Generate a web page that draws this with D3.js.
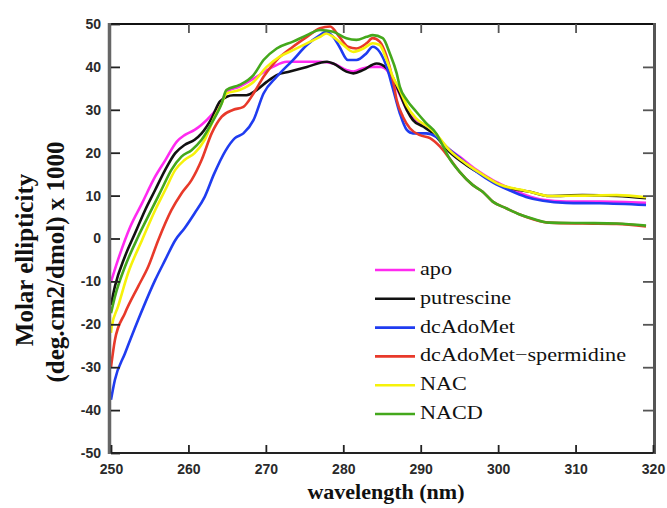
<!DOCTYPE html>
<html>
<head>
<meta charset="utf-8">
<script src="https://cdn.jsdelivr.net/npm/d3@7"></script>
<style>
    body { margin: 0; background: #fff; }
</style>
</head>
<body>
<svg id="chart"></svg>
<script>
// CD spectra, [wavelength, ellipticity]
var apo = [[250,-10.1],[250.9,-5.0],[252.5,2.8],[254.0,8.2],[255.7,14.4],[257.0,18.2],[258.5,22.6],[259.5,24.1],[260.8,25.3],[261.7,26.5],[263.0,28.8],[264.3,31.9],[264.9,34.2],[266.6,35.4],[268.8,37.7],[270.9,40.0],[272.7,41.2],[274.4,41.2],[277.0,41.2],[278.7,40.8],[280.4,39.3],[281.3,38.9],[282.6,39.7],[283.8,40.0],[284.9,40.0],[285.6,39.3],[286.4,36.9],[287.3,33.5],[288.2,30.0],[289.4,27.6],[291.2,25.7],[292.0,24.1],[293.3,21.4],[295.0,19.1],[297.2,16.0],[299.3,13.6],[301.5,11.7],[303.6,10.1],[305.8,9.0],[308.8,8.6],[313.1,8.6],[319.1,8.3]];
var putrescine = [[250,-15.5],[250.5,-11.2],[251.8,-4.2],[253.1,1.2],[254.4,6.6],[255.7,11.3],[257.0,16.0],[258.3,19.9],[259.5,21.8],[260.8,23.0],[261.7,24.5],[263.0,28.0],[264.1,32.0],[265.8,33.4],[267.5,33.4],[268.8,34.6],[270.1,36.5],[271.4,38.1],[273.1,38.9],[275.3,40.0],[277.9,41.2],[278.7,40.8],[280.4,38.9],[281.3,38.5],[282.6,39.3],[284.3,40.8],[285.6,39.7],[286.4,37.5],[287.3,33.8],[288.2,30.0],[289.0,27.6],[290.3,26.1],[291.6,24.5],[293.7,20.2],[295.9,17.1],[298.0,14.8],[300.2,12.5],[302.8,11.3],[304.1,10.9],[306.6,9.9],[310.9,10.1],[315.3,9.9],[319.1,9.4]];
var dcAdoMet = [[250,-37.6],[250.5,-33.0],[251.8,-26.8],[253.5,-19.0],[255.7,-9.7],[257.0,-5.0],[258.3,-0.4],[259.5,2.4],[260.8,5.9],[262.1,9.7],[263.3,15.0],[264.8,20.5],[266.0,23.4],[267.1,24.5],[268.4,27.6],[269.7,33.8],[271.4,37.7],[273.5,41.6],[275.3,45.1],[277.0,47.4],[277.8,48.2],[278.7,47.0],[279.5,44.7],[280.6,41.6],[281.7,41.6],[283.0,43.2],[283.8,44.7],[284.7,43.5],[285.6,40.0],[286.4,35.0],[287.3,29.2],[288.2,25.3],[289.0,24.5],[290.7,24.5],[292.0,23.7],[293.3,21.4],[295.0,18.8],[297.2,15.6],[299.3,13.1],[301.5,11.2],[303.6,9.7],[305.8,8.8],[308.8,8.3],[313.1,8.2],[319.1,7.8]];
var dcAdoMetSpermidine = [[250,-30.0],[250.5,-23.7],[251.8,-17.4],[253.5,-11.2],[254.8,-6.6],[256.1,-0.4],[257.8,6.6],[259.1,10.5],[260.4,13.6],[261.7,18.3],[263.0,24.5],[264.3,28.4],[265.8,30.0],[267.1,30.7],[268.4,33.8],[269.7,37.7],[271.4,41.6],[273.5,44.7],[275.3,47.0],[277.0,49.0],[278.3,49.4],[279.5,47.0],[280.6,44.7],[281.7,44.3],[283.0,45.5],[283.8,46.7],[284.7,45.9],[285.6,42.4],[286.4,36.9],[286.9,32.3],[287.7,28.4],[288.6,25.7],[289.9,24.1],[291.2,23.4],[292.5,21.4],[293.7,18.7],[295.0,15.6],[296.7,12.5],[298.0,10.9],[299.3,8.6],[301.1,7.0],[302.8,5.6],[304.5,4.5],[306.6,3.7],[310.9,3.5],[315.3,3.4],[319.1,2.8]];
var nac = [[250,-22.0],[250.1,-20.5],[250.9,-15.9],[252.2,-8.1],[254.0,-0.4],[255.7,6.6],[257.0,11.3],[258.3,16.0],[259.5,18.3],[260.8,19.9],[262.1,23.0],[263.4,28.4],[264.3,31.5],[264.9,33.8],[266.6,34.6],[268.4,36.5],[270.1,40.0],[271.8,42.4],[273.5,43.9],[275.3,45.5],[277.0,47.0],[277.8,47.8],[278.7,47.0],[280.0,45.1],[281.3,43.5],[282.6,44.3],[283.8,45.5],[284.7,45.1],[285.6,41.6],[286.4,37.7],[287.3,34.6],[288.2,31.0],[289.4,28.0],[291.2,25.7],[292.0,24.3],[293.7,20.6],[295.9,17.4],[298.0,14.9],[300.2,12.6],[302.8,11.4],[304.1,10.9],[306.6,9.9],[310.9,10.0],[315.3,10.1],[319.1,9.6]];
var nacd = [[250,-17.4],[250.5,-13.6],[251.8,-6.6],[253.5,0.4],[255.2,6.6],[256.5,11.3],[257.8,16.0],[259.1,19.1],[260.4,20.6],[261.7,23.0],[263.0,26.9],[264.3,31.5],[264.9,34.6],[266.6,35.8],[268.4,38.1],[269.7,41.6],[271.4,44.3],[273.5,45.9],[275.3,47.4],[277.0,48.6],[278.7,48.2],[280.4,46.7],[281.7,46.3],[283.0,47.0],[283.8,47.4],[285.1,46.7],[286.0,43.2],[286.9,38.5],[287.3,35.4],[288.2,32.3],[289.4,29.6],[290.7,26.9],[292.0,24.5],[292.8,21.8],[293.7,18.7],[295.0,15.6],[296.7,12.5],[298.0,10.9],[299.3,8.6],[301.1,7.0],[302.8,5.6],[304.5,4.6],[306.6,3.7],[310.9,3.6],[315.3,3.5],[319.1,3.0]];

var seriesNames = ["apo", "putrescine", "dcAdoMet", "dcAdoMet\u2212spermidine", "NAC", "NACD"];
var seriesData = [apo, putrescine, dcAdoMet, dcAdoMetSpermidine, nac, nacd];
var seriesColors = ["#ff2af0", "#111111", "#1f3cf0", "#e8392a", "#f6f20a", "#44a81c"];

var xTicks = [250, 260, 270, 280, 290, 300, 310, 320];
var yTicks = [-50, -40, -30, -20, -10, 0, 10, 20, 30, 40, 50];

var width = 667, height = 508;
var plotLeft = 111, plotRight = 653, plotTop = 24, plotBottom = 453;

var svg = d3.select("#chart").attr("width", width).attr("height", height);

var x = d3.scaleLinear().domain([250, 320]).range([plotLeft, plotRight]);
var y = d3.scaleLinear().domain([-50, 50]).range([plotBottom, plotTop]);

//curves
var line = d3.line()
    .curve(d3.curveMonotoneX)
    .x(function (d) { return x(d[0]); })
    .y(function (d) { return y(d[1]); });

svg.selectAll("path.curve")
    .data(seriesData)
    .enter()
    .append("path")
    .attr("class", "curve")
    .attr("d", line)
    .attr("fill", "none")
    .attr("stroke", function (d, i) { return seriesColors[i]; })
    .attr("stroke-width", 2.6)
    .attr("stroke-linejoin", "round");

// frame: top/bottom black, left/right grey
var frame = svg.append("g");
frame.append("line").attr("x1", plotLeft).attr("x2", plotRight + 1).attr("y1", plotTop).attr("y2", plotTop)
    .attr("stroke", "#111").attr("stroke-width", 2.2);
frame.append("line").attr("x1", plotLeft).attr("x2", plotRight + 1).attr("y1", plotBottom).attr("y2", plotBottom)
    .attr("stroke", "#222").attr("stroke-width", 2.2);
frame.append("line").attr("x1", plotLeft - 1.5).attr("x2", plotLeft - 1.5).attr("y1", plotTop - 1).attr("y2", plotBottom + 1)
    .attr("stroke", "#666").attr("stroke-width", 3.5);
frame.append("line").attr("x1", plotRight + 1.5).attr("x2", plotRight + 1.5).attr("y1", plotTop - 1).attr("y2", plotBottom + 1)
    .attr("stroke", "#555").attr("stroke-width", 3);

// inward ticks on all four sides
var xAxisB = d3.axisBottom(x).tickValues(xTicks).tickSize(-8).tickPadding(11).tickFormat(d3.format("d"));
var xAxisT = d3.axisTop(x).tickValues(xTicks.slice(1, -1)).tickSize(-9).tickFormat("");
var yAxisL = d3.axisLeft(y).tickValues(yTicks).tickSize(-9).tickPadding(10).tickFormat(function (d) { return d < 0 ? "-" + Math.abs(d) : d; });
var yAxisR = d3.axisRight(y).tickValues(yTicks.slice(1, -1)).tickSize(-10).tickFormat("");

function styleAxis(g, col) {
    g.select(".domain").remove();
    g.selectAll(".tick line").attr("stroke", col).attr("stroke-width", 1.8);
    g.selectAll(".tick text")
        .attr("font-family", "'Liberation Sans', Arial, sans-serif")
        .attr("font-weight", "bold")
        .attr("font-size", "14px")
        .attr("fill", "#2a2a2a");
}

svg.append("g").attr("transform", "translate(0," + plotBottom + ")").call(xAxisB).call(styleAxis, "#222");
svg.append("g").attr("transform", "translate(0," + plotTop + ")").call(xAxisT).call(styleAxis, "#555");
svg.append("g").attr("transform", "translate(" + plotLeft + ",0)").call(yAxisL).call(styleAxis, "#222");
svg.append("g").attr("transform", "translate(" + plotRight + ",0)").call(yAxisR).call(styleAxis, "#555");

// axis titles
var titleFont = "'Liberation Serif', 'Times New Roman', serif";
svg.append("text")
    .attr("x", 386).attr("y", 499)
    .attr("text-anchor", "middle")
    .attr("font-family", titleFont)
    .attr("font-weight", "bold")
    .attr("font-size", "22px")
    .attr("fill", "#111")
    .text("wavelength (nm)");

svg.append("text")
    .attr("transform", "translate(33,260) rotate(-90)")
    .attr("text-anchor", "middle")
    .attr("font-family", titleFont)
    .attr("font-weight", "bold")
    .attr("font-size", "25px")
    .attr("fill", "#111")
    .text("Molar ellipticity");

svg.append("text")
    .attr("transform", "translate(64,262) rotate(-90)")
    .attr("text-anchor", "middle")
    .attr("font-family", titleFont)
    .attr("font-weight", "bold")
    .attr("font-size", "25px")
    .attr("fill", "#111")
    .text("(deg.cm2/dmol) x 1000");

// legend
var legend = svg.append("g").attr("transform", "translate(375,270)");
var rowH = 28.8;

legend.selectAll("line")
    .data(seriesNames)
    .enter()
    .append("line")
    .attr("x1", 0).attr("x2", 40)
    .attr("y1", function (d, i) { return i * rowH; })
    .attr("y2", function (d, i) { return i * rowH; })
    .attr("stroke", function (d, i) { return seriesColors[i]; })
    .attr("stroke-width", 2.6);

legend.selectAll("text")
    .data(seriesNames)
    .enter()
    .append("text")
    .attr("transform", function (d, i) { return "translate(45," + (i * rowH + 5) + ") scale(1.2,1)"; })
    .attr("font-family", titleFont)
    .attr("font-size", "18.5px")
    .attr("fill", "#111")
    .text(function (d) { return d; });
</script>
</body>
</html>
